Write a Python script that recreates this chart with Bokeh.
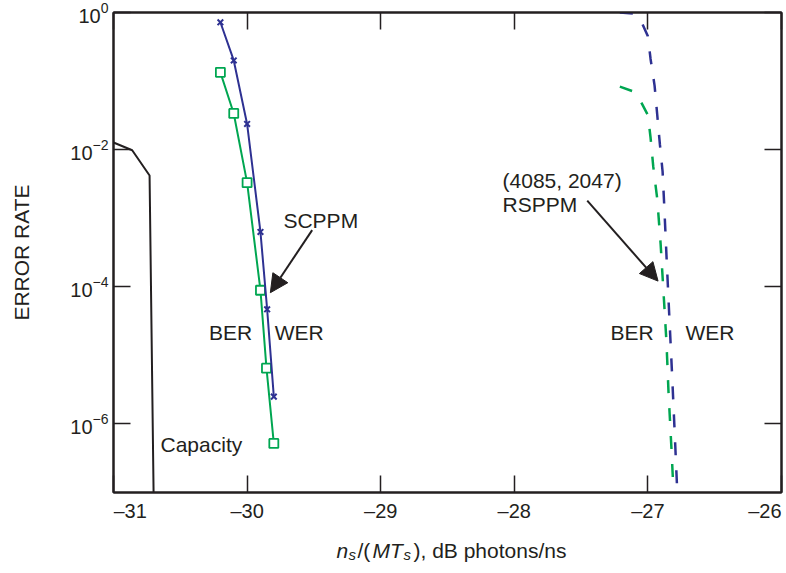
from bokeh.plotting import figure
from bokeh.layouts import column
from bokeh.models import (Range1d, FixedTicker, LinearAxis, LogAxis, Label, Arrow,
                          NormalHead, CustomJSTickFormatter)
from bokeh.embed import file_html
from bokeh.resources import INLINE

FONT = "Liberation Sans"
INK = "#231F20"
BLUE = "#2E3192"
GREEN = "#00A651"

# ---------------- data ----------------
cap_x = [-31.0, -30.86, -30.73, -30.70]
cap_y = [1.27e-2, 9.8e-3, 4.2e-3, 1.0e-7]

sc_wer_x = [-30.2, -30.1, -30.0, -29.9, -29.85, -29.8]
sc_wer_y = [0.72, 0.20, 0.0237, 6.3e-4, 4.7e-5, 2.5e-6]

sc_ber_x = [-30.2, -30.1, -30.0, -29.9, -29.855, -29.8]
sc_ber_y = [0.134, 0.0337, 3.3e-3, 8.9e-5, 6.5e-6, 5.2e-7]

rs_wer_x = [-27.21, -27.11, -27.04, -27.00, -26.98, -26.95, -26.93, -26.91,
            -26.89, -26.88, -26.86, -26.84, -26.82, -26.80, -26.78]
rs_wer_y = [1.0, 0.97, 0.67, 0.45, 0.21, 0.086, 0.032, 0.0118,
            4.8e-3, 1.9e-3, 2.6e-4, 3.8e-5, 5.8e-6, 7.9e-7, 1e-7]

rs_ber_x = [-27.21, -27.11, -27.05, -27.00, -26.98, -26.96, -26.93, -26.905,
            -26.883, -26.861, -26.846, -26.823, -26.808]
rs_ber_y = [0.083, 0.0706, 0.049, 0.0319, 0.0149, 5.7e-3, 1.9e-3, 4.3e-4,
            8.2e-5, 1.56e-5, 3.0e-6, 4.1e-7, 1e-7]

x_ticks = [-31, -30, -29, -28, -27, -26]
x_tick_labels = ["\u201331", "\u201330", "\u201329", "\u201328", "\u201327", "\u201326"]
y_ticks = [1e-6, 1e-4, 1e-2, 1e0]

# annotations (text, x, y)
scppm_label = ("SCPPM", -29.728, 9.2e-4)
scppm_arrow = (-29.513, 6.7e-4, -29.826, 8.2e-5)
rsppm_label1 = ("(4085, 2047)", -28.088, 3.5e-3)
rsppm_label2 = ("RSPPM", -28.088, 1.58e-3)
rsppm_arrow = (-27.454, 1.8e-3, -26.924, 1.21e-4)
cap_label = ("Capacity", -30.648, 5.0e-7)
sc_ber_label = ("BER", -29.962, 2.18e-5)
sc_wer_label = ("WER", -29.793, 2.18e-5)
rs_ber_label = ("BER", -26.956, 2.18e-5)
rs_wer_label = ("WER", -26.719, 2.18e-5)

# ---------------- main figure ----------------
p = figure(frame_width=668, frame_height=480, x_range=Range1d(-31, -26), y_range=Range1d(1e-7, 1),
           y_axis_type="log", output_backend="svg", toolbar_location=None,
           min_border_left=113, min_border_right=3, min_border_top=12, min_border_bottom=2)
p.grid.visible = False
p.outline_line_color = INK
p.outline_line_width = 2
p.background_fill_color = "white"
p.border_fill_color = "white"

def style_axis(ax):
    ax.axis_line_color = INK
    ax.axis_line_width = 2
    ax.major_tick_in = 17
    ax.major_tick_out = 0
    ax.major_tick_line_color = INK
    ax.major_tick_line_width = 1.5
    ax.minor_tick_in = 0
    ax.minor_tick_out = 0
    ax.major_label_text_font = FONT
    ax.major_label_text_font_size = "20px"
    ax.major_label_text_color = INK

blank = CustomJSTickFormatter(code="return ''")

# left
yax = p.yaxis[0]
style_axis(yax)
yax.ticker = FixedTicker(ticks=y_ticks, minor_ticks=[])
yax.major_label_standoff = 5
yax.axis_label = "ERROR RATE"
yax.axis_label_text_font = FONT
yax.axis_label_text_font_size = "21px"
yax.axis_label_text_font_style = "normal"
yax.axis_label_text_color = INK
yax.axis_label_standoff = 34

# bottom (ticks only; labels drawn in the strip below)
xax = p.xaxis[0]
style_axis(xax)
xax.ticker = FixedTicker(ticks=x_ticks, minor_ticks=[])
xax.formatter = blank
xax.major_label_text_font_size = "0px"
xax.major_label_standoff = 0

# top & right (ticks only)
top = LinearAxis(ticker=FixedTicker(ticks=x_ticks, minor_ticks=[]), formatter=blank)
style_axis(top)
top.major_label_text_font_size = "0px"
top.major_label_standoff = 0
p.add_layout(top, "above")

right = LogAxis(ticker=FixedTicker(ticks=y_ticks, minor_ticks=[]), formatter=blank)
style_axis(right)
right.major_label_text_font_size = "0px"
right.major_label_standoff = 0
p.add_layout(right, "right")

# ---------------- data glyphs ----------------
p.line(cap_x, cap_y, line_color=INK, line_width=2)

p.line(sc_ber_x, sc_ber_y, line_color=GREEN, line_width=2)
p.scatter(sc_ber_x, sc_ber_y, marker="square", size=9, line_color=GREEN,
          fill_color="white", line_width=1.8)
p.line(sc_wer_x, sc_wer_y, line_color=BLUE, line_width=2)
p.scatter(sc_wer_x, sc_wer_y, marker="x", size=8, line_color=BLUE, line_width=2)

p.line(rs_ber_x, rs_ber_y, line_color=GREEN, line_width=2.5, line_dash="13 15")
p.line(rs_wer_x, rs_wer_y, line_color=BLUE, line_width=2.5, line_dash="13 15")

# ---------------- annotations ----------------
def txt(fig, t, x, y, align="left", size="21px", style="normal", **kw):
    fig.add_layout(Label(text=t, x=x, y=y, text_align=align, text_baseline="alphabetic",
                         text_font=FONT, text_font_size=size, text_font_style=style,
                         text_color=INK, **kw))

txt(p, *scppm_label)
txt(p, *rsppm_label1)
txt(p, *rsppm_label2)
txt(p, *cap_label)
txt(p, *sc_ber_label, align="right")
txt(p, *sc_wer_label)
txt(p, *rs_ber_label, align="right")
txt(p, *rs_wer_label)

for (xs, ys, xe, ye) in (scppm_arrow, rsppm_arrow):
    p.add_layout(Arrow(end=NormalHead(size=18, fill_color=INK, line_color=INK, line_width=1),
                       x_start=xs, y_start=ys, x_end=xe, y_end=ye,
                       line_color=INK, line_width=2))

# ---------------- strip below: x tick labels and x title ----------------
p2 = figure(frame_width=668, frame_height=70, x_range=p.x_range, y_range=Range1d(0, 1),
            x_axis_location=None, y_axis_location=None,
            output_backend="svg", toolbar_location=None,
            min_border_left=113, min_border_right=3, min_border_top=0, min_border_bottom=0)
p2.grid.visible = False
p2.outline_line_color = None
p2.background_fill_color = "white"
p2.border_fill_color = "white"

n = len(x_ticks)
for i, (t, lab) in enumerate(zip(x_ticks, x_tick_labels)):
    align = "left" if i == 0 else ("right" if i == n - 1 else "center")
    txt(p2, lab, t, 54, align=align, size="20px", x_units="data", y_units="screen")

xlabel_parts = [("n", "italic", "21px", 223, 14),
                ("s", "italic", "15px", 235, 10),
                ("/(", "normal", "21px", 244, 14),
                ("MT", "italic", "21px", 259, 14),
                ("s", "italic", "15px", 290, 10),
                ("), dB photons/ns", "normal", "21px", 300, 14)]
for t, st, fs, xo, yo in xlabel_parts:
    txt(p2, t, xo, yo, size=fs, style=st, x_units="screen", y_units="screen")

layout = column(p, p2, spacing=0)
open("out.html", "w").write(file_html(layout, INLINE))
